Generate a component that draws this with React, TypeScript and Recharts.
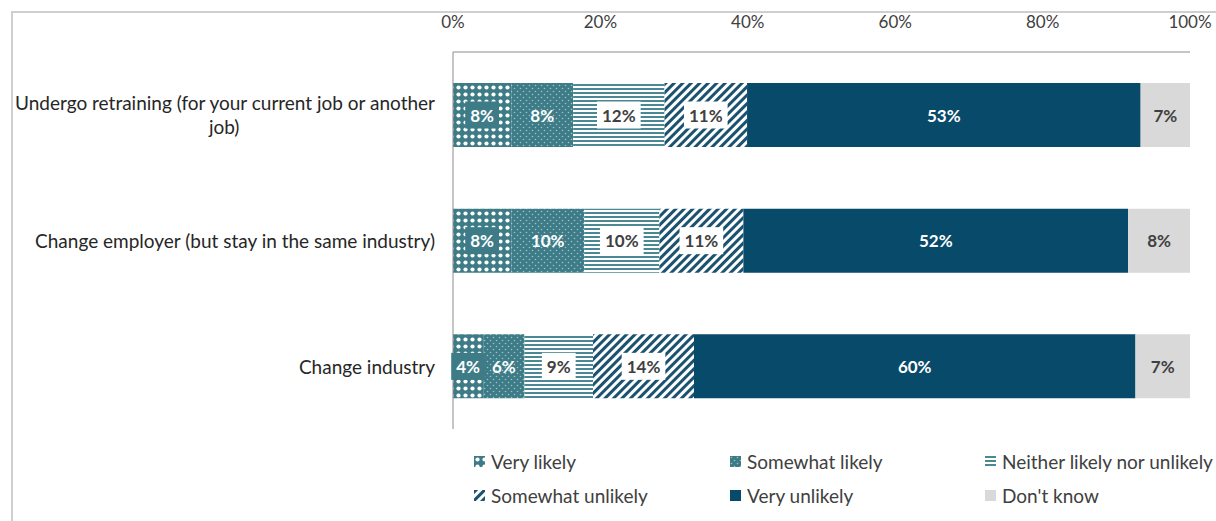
import React from 'react';
import { BarChart, Bar, XAxis, YAxis, LabelList } from 'recharts';

const categories = [
  'Undergo retraining (for your current job or another job)',
  'Change employer (but stay in the same industry)',
  'Change industry',
];
const categoryLines: string[][] = [
  ['Undergo retraining (for your current job or another', 'job)'],
  ['Change employer (but stay in the same industry)'],
  ['Change industry'],
];
const veryLikely = [7.9, 7.9, 4.1];
const somewhatLikely = [8.4, 9.9, 5.6];
const neither = [12.4, 10.2, 9.3];
const somewhatUnlikely = [11.2, 11.4, 13.7];
const veryUnlikely = [53.4, 52.2, 59.9];
const dontKnow = [6.7, 8.4, 7.4];
const xTicks = [0, 20, 40, 60, 80, 100];

const seriesNames = [
  'Very likely',
  'Somewhat likely',
  'Neither likely nor unlikely',
  'Somewhat unlikely',
  'Very unlikely',
  "Don't know",
];

const data = categories.map((c, i) => ({
  name: c,
  vl: veryLikely[i],
  sl: somewhatLikely[i],
  ne: neither[i],
  su: somewhatUnlikely[i],
  vu: veryUnlikely[i],
  dk: dontKnow[i],
}));

const FONT = 'Lato, "Open Sans", sans-serif';
const TEAL = '#3d7c87';
const NAVY = '#084a69';

const series = [
  { key: 'vl', fill: 'url(#pVL)', text: '#ffffff', box: TEAL },
  { key: 'sl', fill: 'url(#pSL)', text: '#ffffff', box: null },
  { key: 'ne', fill: 'url(#pNE)', text: '#404040', box: '#ffffff' },
  { key: 'su', fill: 'url(#pSU)', text: '#404040', box: '#ffffff' },
  { key: 'vu', fill: NAVY, text: '#ffffff', box: null },
  { key: 'dk', fill: '#d9d9d9', text: '#404040', box: null },
];

let canvasCtx: CanvasRenderingContext2D | null = null;
function measure(text: string, font: string): number {
  if (!canvasCtx) {
    const c = document.createElement('canvas');
    canvasCtx = c.getContext('2d');
  }
  if (!canvasCtx) return text.length * 8;
  canvasCtx.font = font;
  return canvasCtx.measureText(text).width;
}

const LABEL_FONT_SIZE = 17;

const makeLabel = (textColor: string, box: string | null) => (props: any) => {
  const { x, y, width, height, value } = props;
  const cx = Number(x) + Number(width) / 2;
  const cy = Number(y) + Number(height) / 2;
  const txt = `${Math.round(Number(value))}%`;
  const tw = measure(txt, `bold ${LABEL_FONT_SIZE}px Lato`);
  const bw = tw + 10;
  const bh = 27;
  return (
    <g>
      {box && (
        <rect x={cx - bw / 2} y={cy - bh / 2} width={bw} height={bh} fill={box} />
      )}
      <text
        x={cx}
        y={cy}
        textAnchor="middle"
        dominantBaseline="central"
        fill={textColor}
        fontFamily={FONT}
        fontWeight="bold"
        fontSize={LABEL_FONT_SIZE}
      >
        {txt}
      </text>
    </g>
  );
};

const YTick = (props: any) => {
  const { x, y, index } = props;
  const lines: string[] = categoryLines[index] || [String(props.payload?.value)];
  const fs = 19;
  const lh = 24;
  const right = Number(x) - 10;
  const w0 = measure(lines[0], `${fs}px Lato`);
  const start = Number(y) - ((lines.length - 1) * lh) / 2;
  return (
    <g>
      {lines.map((l, i) => (
        <text
          key={i}
          x={i === 0 ? right : right - w0 / 2}
          y={start + i * lh}
          textAnchor={i === 0 ? 'end' : 'middle'}
          dominantBaseline="central"
          fill="#262626"
          fontFamily={FONT}
          fontSize={fs}
        >
          {l}
        </text>
      ))}
    </g>
  );
};

const Swatch = ({ fill }: { fill: string }) => (
  <svg width={11} height={11} style={{ display: 'block' }}>
    <rect width={11} height={11} fill={fill} />
  </svg>
);

const legendPos = [
  { left: 474, top: 461 },
  { left: 730, top: 461 },
  { left: 985, top: 461 },
  { left: 474, top: 495 },
  { left: 730, top: 495 },
  { left: 985, top: 495 },
];

export default function App() {
  return (
    <div
      style={{
        position: 'absolute',
        left: 0,
        top: 0,
        width: 1216,
        height: 521,
        background: '#ffffff',
        overflow: 'hidden',
        fontFamily: FONT,
      }}
    >
      <div
        style={{
          position: 'absolute',
          left: 11,
          top: 11,
          width: 1300,
          height: 600,
          borderLeft: '2px solid #cfcfcf',
          borderTop: '2px solid #cfcfcf',
        }}
      />
      <div style={{ position: 'absolute', left: 0, top: 0 }}>
        <BarChart
          width={1216}
          height={521}
          data={data}
          layout="vertical"
          margin={{ top: 12, right: 26, left: 0, bottom: 92 }}
          barCategoryGap="49%"
        >
          <defs>
            <pattern id="pVL" width="7" height="7" patternUnits="userSpaceOnUse">
              <rect width="7" height="7" fill={TEAL} />
              <circle cx="3.5" cy="3.5" r="2.1" fill="#ffffff" />
            </pattern>
            <pattern id="pSL" width="6" height="6" patternUnits="userSpaceOnUse">
              <rect width="6" height="6" fill={TEAL} />
              <circle cx="1.5" cy="1.5" r="0.8" fill="#9cc2c8" />
              <circle cx="4.5" cy="4.5" r="0.8" fill="#9cc2c8" />
            </pattern>
            <pattern id="pNE" width="4" height="4" patternUnits="userSpaceOnUse">
              <rect width="4" height="4" fill="#ffffff" />
              <rect width="4" height="2" fill="#4a8993" />
            </pattern>
            <pattern
              id="pSU"
              width="6"
              height="6"
              patternUnits="userSpaceOnUse"
              patternTransform="rotate(45)"
            >
              <rect width="6" height="6" fill="#ffffff" />
              <rect width="3" height="6" fill="#1a5270" />
            </pattern>
          </defs>
          <XAxis
            type="number"
            orientation="top"
            domain={[0, 100]}
            ticks={xTicks}
            tickFormatter={(v) => `${v}%`}
            axisLine={{ stroke: '#8c8c8c' }}
            tickLine={false}
            tickMargin={18}
            height={40}
            tick={{ fill: '#404040', fontSize: 17, fontFamily: FONT }}
            interval={0}
          />
          <YAxis
            type="category"
            dataKey="name"
            width={453}
            axisLine={{ stroke: '#8c8c8c' }}
            tickLine={false}
            tick={<YTick />}
            interval={0}
          />
          {series.map((s) => (
            <Bar
              key={s.key}
              dataKey={s.key}
              stackId="a"
              fill={s.fill}
              barSize={64}
              isAnimationActive={false}
            >
              <LabelList dataKey={s.key} content={makeLabel(s.text, s.box)} />
            </Bar>
          ))}
        </BarChart>
      </div>
      {seriesNames.map((n, i) => (
        <div
          key={n}
          style={{
            position: 'absolute',
            left: legendPos[i].left,
            top: legendPos[i].top - 12,
            height: 24,
            display: 'flex',
            alignItems: 'center',
            gap: 6,
            fontSize: 19,
            color: '#404040',
            whiteSpace: 'nowrap',
          }}
        >
          <Swatch fill={series[i].fill} />
          <span>{n}</span>
        </div>
      ))}
    </div>
  );
}
